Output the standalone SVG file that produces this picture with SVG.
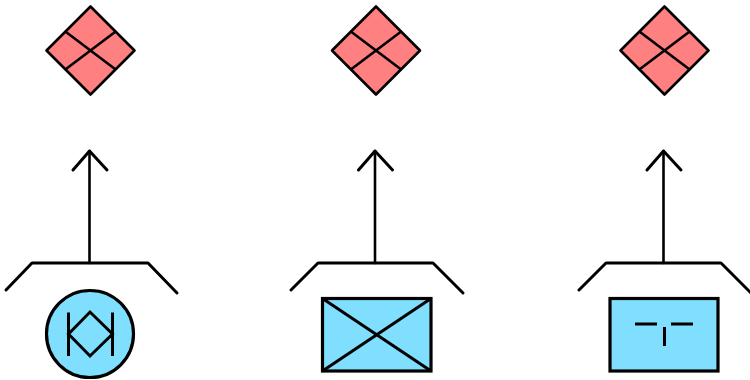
<svg xmlns="http://www.w3.org/2000/svg" width="750" height="380" viewBox="0 0 750 380">
<style>
.s{stroke:#000;stroke-width:3;fill:none;stroke-linecap:round;stroke-linejoin:round}
.j{stroke-linecap:butt;stroke-linejoin:miter}
.r{fill:#ff8080;stroke:#000;stroke-width:2.6;stroke-linejoin:round}
.b{fill:#80dfff;stroke:#000;stroke-width:3.2}
.t{stroke-width:2.6}
</style>
<defs>
<g id="d"><path class="r" d="M0,-44L44,0L0,44L-44,0Z"/><path class="s t" d="M-24.500,-18.500L24.500,18.500M-24.500,18.500L24.500,-18.500"/></g>
</defs>
<g id="connectors">
<path class="s t" d="M89.500,263V151"/><path class="s" d="M73,170L89.500,151L107,170"/>
<path class="s" d="M6,290L32,263H148L177,293"/>
<path class="s t" d="M375,263V151"/><path class="s" d="M358.500,170L375,151L392.500,170"/>
<path class="s" d="M291,290L318,263H433L463,293"/>
<path class="s t" d="M663.500,263V151"/><path class="s" d="M647,170L663.500,151L681,170"/>
<path class="s" d="M579,290L606,263H721L751,293"/>
</g>
<g id="top1"><use href="#d" x="90.500" y="50.500"/></g>
<g id="top2"><use href="#d" x="376" y="50.500"/></g>
<g id="top3"><use href="#d" x="664.500" y="50.500"/></g>
<g id="bottom1">
<circle class="b" cx="90" cy="334" r="43.500"/>
<path class="s j" d="M68.500,312.500V356M112.500,312.500V356M68.500,334L90,312L112.500,334L90,356Z"/>
</g>
<g id="bottom2">
<rect class="b" x="322.500" y="298.500" width="108.500" height="72.500"/>
<path class="s j" d="M322.500,298.500L431,371M322.500,371L431,298.500"/>
</g>
<g id="bottom3">
<rect class="b" x="610" y="298.500" width="108" height="72.500"/>
<path class="s j" d="M635,324H657M671,324H693M664.500,327V346"/>
</g>
</svg>
